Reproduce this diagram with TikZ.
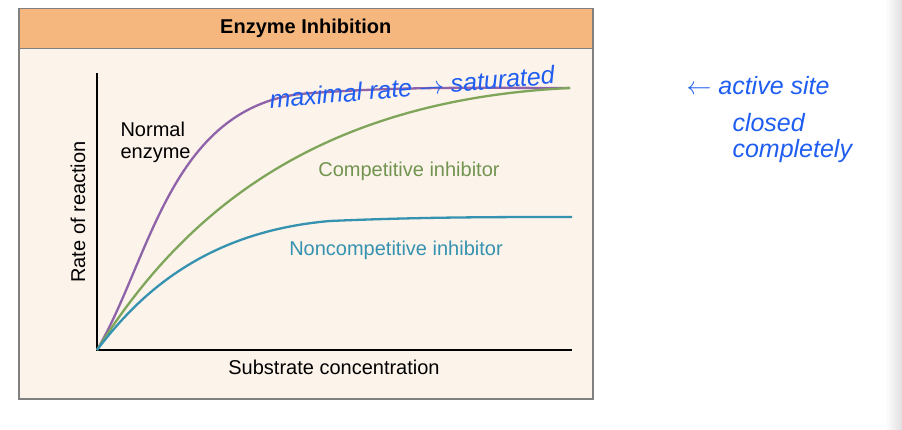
\documentclass[tikz,border=0pt]{standalone}
\usepackage{fontspec}
\setmainfont{Liberation Sans}
\begin{document}
\begin{tikzpicture}[x=1pt,y=-1pt,
  lbl/.style={font=\fontsize{20}{22}\selectfont},
  hand/.style={text=hw,font=\fontsize{25}{26}\selectfont\itshape},
  curve/.style={line width=2.3pt}]
\definecolor{hw}{HTML}{1F5EF0}
\definecolor{hdr}{HTML}{F6B77E}
\definecolor{bg}{HTML}{FCF3EA}
\definecolor{pur}{HTML}{8E63AA}
\definecolor{grn}{HTML}{7FA55A}
\definecolor{blu}{HTML}{3592B0}
\useasboundingbox (0,0) rectangle (902,430);
\fill[white] (0,0) rectangle (902,430);
\shade[left color=white,right color=black!12] (885,0) rectangle (902,430);
\node[draw=gray,fill=bg,line width=1.5pt,minimum width=574,minimum height=390,anchor=north west] (frame) at (18,8) {};
\node[draw=gray,fill=hdr,line width=1.5pt,minimum width=574,minimum height=40,anchor=north west] (head) at (18,8) {};
\node[font=\bfseries\fontsize{20}{22}\selectfont] (title) at (head.center) {Enzyme Inhibition};
\coordinate (o) at (97,350);
\coordinate (ytop) at (97,73);
\coordinate (xend) at (572,350);
\draw[line width=2pt] (ytop) -- (o) -- (xend);
\draw[curve,pur] (o) .. controls (150,260) and (170,110) .. (300,94) .. controls (400,86) and (480,88) .. (570,88);
\draw[curve,grn] (o) .. controls (185,210) and (320,100) .. (570,88);
\draw[curve,blu] (o) .. controls (135,300) and (200,232) .. (330,221) .. controls (420,217) and (500,217) .. (572,217);
\node[lbl,align=left,anchor=north west] (ne) at (117,118) {Normal\\enzyme};
\node[lbl,text=grn!90!black] (ci) at (409,171) {Competitive inhibitor};
\node[lbl,text=blu] (nci) at (396,250) {Noncompetitive inhibitor};
\node[lbl] (xl) at (334,367) {Substrate concentration};
\node[lbl,rotate=90] (yl) at (78,212) {Rate of reaction};
\node[hand,anchor=west,rotate=5] (mr) at (266,100) {maximal rate $\rightarrow$ saturated};
\node[hand,anchor=west] (as) at (683,86) {$\leftarrow$ active site};
\node[hand,anchor=west,align=left] (cc) at (729,138) {closed\\completely};
\end{tikzpicture}
\end{document}
